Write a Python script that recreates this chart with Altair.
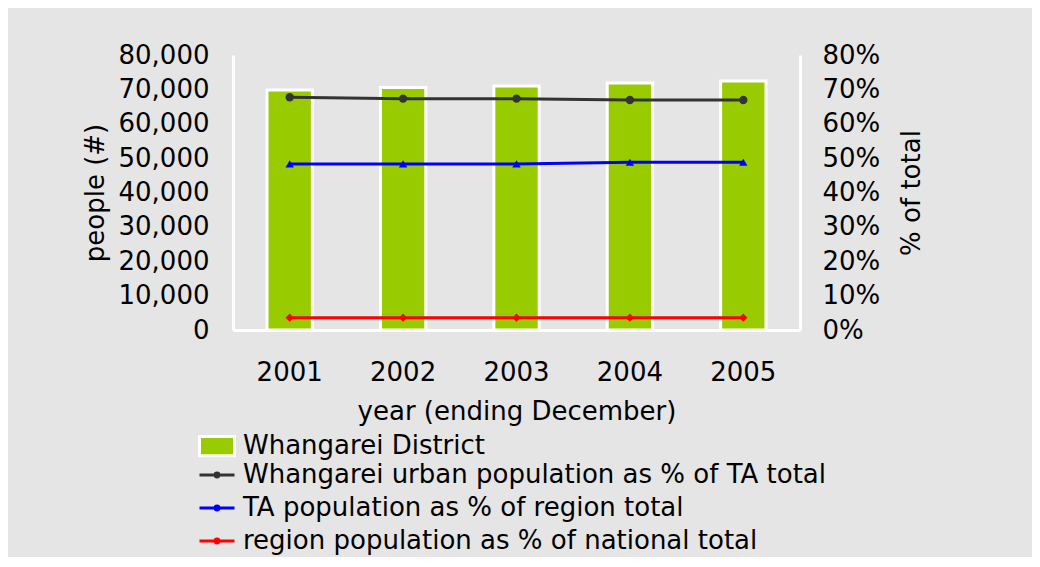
import altair as alt
import pandas as pd

years = ["2001", "2002", "2003", "2004", "2005"]
district = [69800, 70550, 71000, 71850, 72450]
urban_pct = [0.677, 0.673, 0.673, 0.669, 0.669]
ta_pct = [0.483, 0.483, 0.483, 0.488, 0.488]
region_pct = [0.036, 0.036, 0.036, 0.036, 0.036]

bar_name = "Whangarei District"
line_names = [
    "Whangarei urban population as % of TA total",
    "TA population as % of region total",
    "region population as % of national total",
]
line_colors = ["#333333", "#0000ff", "#ff0000"]
point_shapes = ["circle", "triangle-up", "diamond"]

FONT = "DejaVu Sans"
FS = 26

bar_df = pd.DataFrame({"year": years, "people": district, "series": [bar_name] * len(years)})
rows = []
for name, vals in zip(line_names, [urban_pct, ta_pct, region_pct]):
    for y, v in zip(years, vals):
        rows.append({"year": y, "series": name, "pct": v})
line_df = pd.DataFrame(rows)

xenc = alt.X(
    "year:O",
    scale=alt.Scale(paddingInner=0.6, paddingOuter=0.3),
    axis=alt.Axis(
        title="year (ending December)", labelAngle=0, labelPadding=29, titlePadding=13,
        domainColor="white", domainWidth=3, ticks=False, tickSize=0,
    ),
)

bars = alt.Chart(bar_df).mark_bar(stroke="white", strokeWidth=3).encode(
    x=xenc,
    y=alt.Y(
        "people:Q",
        scale=alt.Scale(domain=[0, 80000], nice=False),
        axis=alt.Axis(
            title="people (#)", format=",d", values=list(range(0, 80001, 10000)),
            orient="left", labelPadding=24, titlePadding=10,
            domainColor="white", domainWidth=3, ticks=False, tickSize=0, grid=False,
        ),
    ),
    fill=alt.Fill(
        "series:N",
        scale=alt.Scale(domain=[bar_name], range=["#99cc00"]),
        legend=alt.Legend(
            title=None, orient="none", legendX=-35, legendY=372,
            symbolType="M-1,-0.55H1V0.55H-1Z", symbolSize=1225,
            symbolStrokeColor="white", symbolStrokeWidth=3,
            labelFont=FONT, labelFontSize=FS, labelColor="black", labelOffset=7,
            labelLimit=800,
        ),
    ),
)

yline = alt.Y(
    "pct:Q",
    scale=alt.Scale(domain=[0, 0.8], nice=False),
    axis=alt.Axis(
        title="% of total", format=".0%", values=[i / 10 for i in range(9)],
        orient="right", labelPadding=22, titlePadding=45, titleAngle=270,
        domainColor="white", domainWidth=3, ticks=False, tickSize=0, grid=False,
    ),
)

lines = alt.Chart(line_df).mark_line(strokeWidth=3).encode(
    x=xenc,
    y=yline,
    color=alt.Color(
        "series:N",
        scale=alt.Scale(domain=line_names, range=line_colors),
        sort=line_names,
        legend=alt.Legend(
            title=None, orient="none", legendX=-35, legendY=401,
            symbolType="M-1,0H1M-0.11,0A0.11,0.11,0,1,1,0.11,0A0.11,0.11,0,1,1,-0.11,0",
            symbolSize=1225, symbolStrokeWidth=3,
            labelFont=FONT, labelFontSize=FS, labelColor="black", labelOffset=7,
            labelLimit=800, rowPadding=1,
        ),
    ),
)

points = alt.Chart(line_df).mark_point(filled=True, size=70, opacity=1).encode(
    x=xenc,
    y=alt.Y("pct:Q", scale=alt.Scale(domain=[0, 0.8], nice=False), axis=None),
    color=alt.Color("series:N", scale=alt.Scale(domain=line_names, range=line_colors), legend=None),
    shape=alt.Shape("series:N", scale=alt.Scale(domain=line_names, range=point_shapes), legend=None),
)

chart = (
    alt.layer(bars, lines, points)
    .resolve_scale(y="independent", fill="independent", color="independent")
    .properties(
        width=567, height=275,
        background="#e5e5e5",
        padding={"left": 225, "top": 47, "right": 232, "bottom": 227},
        autosize=alt.AutoSizeParams(type="none"),
    )
    .configure_view(stroke=None)
    .configure_axis(
        labelFont=FONT, labelFontSize=FS, labelColor="black",
        titleFont=FONT, titleFontSize=FS, titleColor="black", titleFontWeight="normal",
    )
)

chart.save("out.html", embed_options={"renderer": "svg", "actions": False})
